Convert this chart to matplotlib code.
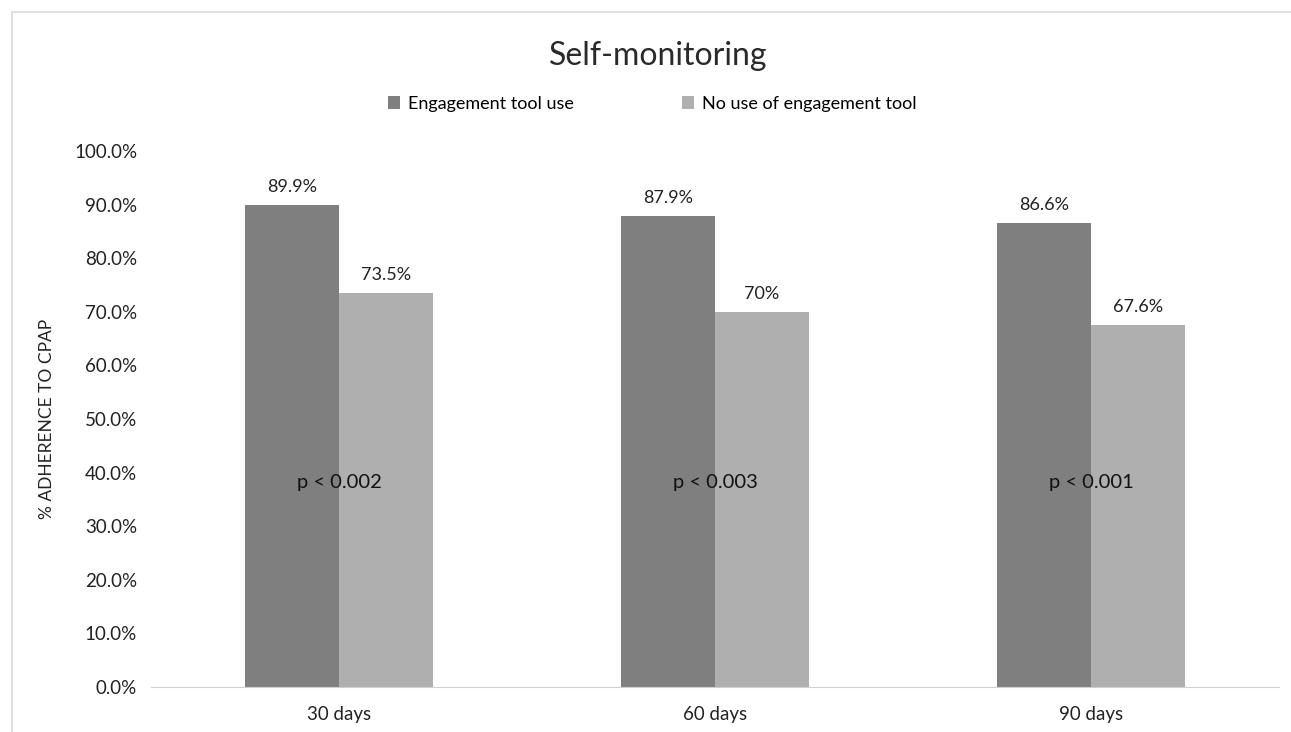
import matplotlib.pyplot as plt
import numpy as np
from matplotlib.lines import Line2D

plt.rcParams['font.family'] = ['Lato', 'DejaVu Sans']

categories = ['30 days', '60 days', '90 days']
engaged = [89.9, 87.9, 86.6]
not_engaged = [73.5, 70.0, 67.6]
engaged_labels = ['89.9%', '87.9%', '86.6%']
not_engaged_labels = ['73.5%', '70%', '67.6%']
p_values = ['p < 0.002', 'p < 0.003', 'p < 0.001']
series_names = ['Engagement tool use', 'No use of engagement tool']

fig = plt.figure(figsize=(12.91, 7.32), dpi=100)
ax = fig.add_axes([151/1291, 1-687/732, (1279-151)/1291, (687-151)/732])

x = np.arange(len(categories))
w = 0.25
b1 = ax.bar(x - w/2, engaged, w, color='#7f7f7f', label=series_names[0])
b2 = ax.bar(x + w/2, not_engaged, w, color='#afafaf', label=series_names[1])

for bars, labels in [(b1, engaged_labels), (b2, not_engaged_labels)]:
    for rect, lab in zip(bars, labels):
        ax.annotate(lab, (rect.get_x() + rect.get_width()/2, rect.get_height()),
                    xytext=(0, 7), textcoords='offset points', ha='center', va='bottom',
                    fontsize=13, color='#222222')

for xi, p in zip(x, p_values):
    ax.text(xi, 38.2, p, ha='center', va='center', fontsize=14.5, color='#111111')

ax.set_xlim(-0.5, len(categories) - 0.5)
ax.set_ylim(0, 100)
ax.set_yticks(np.arange(0, 101, 10))
ax.set_yticklabels(['%.1f%%' % v for v in np.arange(0, 101, 10)])
ax.set_xticks(x)
ax.set_xticklabels(categories)
ax.tick_params(axis='both', length=0, labelsize=13.5, colors='#222222')
ax.tick_params(axis='x', pad=14)
ax.tick_params(axis='y', pad=10)
for s in ['top', 'right', 'left']:
    ax.spines[s].set_visible(False)
ax.spines['bottom'].set_color('#d0d0d0')
ax.set_ylabel('% ADHERENCE TO CPAP', fontsize=12.5, color='#222222', labelpad=14)

fig.text(0.51, 1-56/732, 'Self-monitoring', ha='center', va='center', fontsize=23,
         color='#2a2a2a')
fig.legend(loc='center', bbox_to_anchor=(0.505, 1-104/732), ncol=2, frameon=False,
           fontsize=13, handlelength=0.7, handleheight=0.7, handletextpad=0.4,
           columnspacing=6.0)

# outer chart border
fig.add_artist(Line2D([12/1291, 1], [1-12/732, 1-12/732], color='#d9d9d9', lw=1.2))
fig.add_artist(Line2D([12/1291, 12/1291], [0, 1-12/732], color='#d9d9d9', lw=1.2))

fig.savefig('out.png', dpi=100)
